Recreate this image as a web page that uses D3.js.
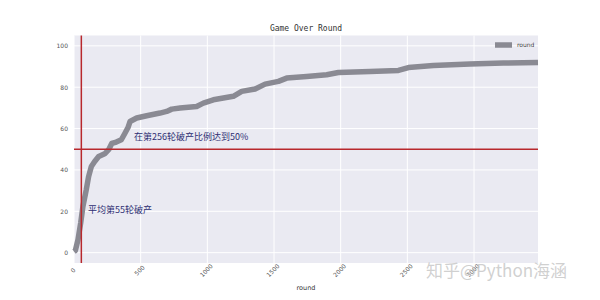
<!DOCTYPE html>
<html><head><meta charset="utf-8">
<script src="https://cdn.jsdelivr.net/npm/d3@7"></script>
<style>body{margin:0;background:#fff}svg{display:block}</style>
</head><body><svg id="c" width="600" height="300"></svg>
<script>
const rounds = [0, 10, 30, 50, 67, 92, 110, 130, 155, 185, 230, 260, 283, 317, 355, 380, 405, 420, 470, 545, 645, 695, 733, 795, 920, 970, 1045, 1195, 1258, 1358, 1433, 1533, 1595, 1745, 1895, 1983, 2220, 2433, 2508, 2695, 2970, 3220, 3480];
const ratio = [0.5, 1, 6.3, 14.3, 22.4, 30.4, 36.9, 41.7, 44.1, 46.5, 47.8, 49.8, 52.8, 53.5, 54.6, 57.5, 60.5, 63.4, 65.1, 66.2, 67.5, 68.3, 69.4, 69.9, 70.7, 72.3, 73.9, 75.6, 78, 79.1, 81.5, 82.8, 84.4, 85.2, 86, 87.1, 87.6, 88.1, 89.5, 90.5, 91.2, 91.7, 92];
const xTicks = [0, 500, 1000, 1500, 2000, 2500, 3000];
const yTicks = [0, 20, 40, 60, 80, 100];
const meanRound = 55;
const halfLevel = 50;
const title = "Game Over Round";
const xLabel = "round";
const seriesName = "round";
const note1 = "在第256轮破产比例达到50%";
const note2 = "平均第55轮破产";
const watermark = "知乎@Python海涵";

const svg = d3.select("#c");
const L = 74, R = 538, T = 35.5, B = 263;
const x = d3.scaleLinear().domain([0, 3480]).range([L, R]);
const y = d3.scaleLinear().domain([-5, 105]).range([B, T]);

svg.append("rect").attr("x", L).attr("y", T).attr("width", R - L).attr("height", B - T).attr("fill", "#EAEAF2");

const gx = svg.append("g");
gx.selectAll("line").data(xTicks).join("line")
  .attr("x1", d => x(d)).attr("x2", d => x(d)).attr("y1", T).attr("y2", B)
  .attr("stroke", "#fff").attr("stroke-width", 1);
const gy = svg.append("g");
gy.selectAll("line").data(yTicks).join("line")
  .attr("y1", d => y(d)).attr("y2", d => y(d)).attr("x1", L).attr("x2", R)
  .attr("stroke", "#fff").attr("stroke-width", 1);

// axes (tick labels only)
const xAxis = svg.append("g").attr("transform", `translate(0,${B})`)
  .call(d3.axisBottom(x).tickValues(xTicks).tickSize(0).tickFormat(d3.format("d")));
xAxis.select(".domain").remove();
xAxis.selectAll("text").attr("font-family", "DejaVu Sans").attr("font-size", 6).attr("fill", "#555")
  .attr("text-anchor", "middle").attr("dy", 0).attr("y", 0)
  .attr("transform", "translate(0,9) rotate(-45)");
const yAxis = svg.append("g").attr("transform", `translate(${L},0)`)
  .call(d3.axisLeft(y).tickValues(yTicks).tickSize(0).tickFormat(d3.format("d")));
yAxis.select(".domain").remove();
yAxis.selectAll("text").attr("font-family", "DejaVu Sans").attr("font-size", 6).attr("fill", "#555").attr("x", -6);

// data line
const line = d3.line().x((d, i) => x(rounds[i])).y(d => y(d));
svg.append("path").datum(ratio).attr("d", line)
  .attr("fill", "none").attr("stroke", "#8a8a93").attr("stroke-width", 5.5)
  .attr("stroke-linejoin", "round").attr("stroke-linecap", "butt");

// reference lines
svg.append("line").attr("x1", x(meanRound)).attr("x2", x(meanRound)).attr("y1", T).attr("y2", B)
  .attr("stroke", "#b8282d").attr("stroke-width", 1.5);
svg.append("line").attr("x1", L).attr("x2", R).attr("y1", y(halfLevel)).attr("y2", y(halfLevel))
  .attr("stroke", "#b8282d").attr("stroke-width", 1.5);

// annotations
svg.append("text").attr("x", x(450)).attr("y", y(54.6)).text(note1)
  .attr("font-family", "Noto Sans CJK SC").attr("font-size", 9).attr("fill", "#2e2e72");
svg.append("text").attr("x", x(105)).attr("y", y(19)).text(note2)
  .attr("font-family", "Noto Sans CJK SC").attr("font-size", 9).attr("fill", "#2e2e72");

// title & labels
svg.append("text").attr("x", (L + R) / 2).attr("y", 31).attr("text-anchor", "middle").text(title)
  .attr("font-family", "DejaVu Sans Mono").attr("font-size", 8).attr("fill", "#333");
svg.append("text").attr("x", (L + R) / 2).attr("y", 290).attr("text-anchor", "middle").text(xLabel)
  .attr("font-family", "DejaVu Sans").attr("font-size", 6.5).attr("fill", "#333");

// legend
svg.append("line").attr("x1", 495).attr("x2", 512).attr("y1", 45).attr("y2", 45)
  .attr("stroke", "#8a8a93").attr("stroke-width", 5.5);
svg.append("text").attr("x", 517).attr("y", 47).text(seriesName)
  .attr("font-family", "DejaVu Sans").attr("font-size", 6).attr("fill", "#444");

// watermark
svg.append("text").attr("x", 426).attr("y", 277).text(watermark)
  .attr("font-family", "Noto Sans CJK SC").attr("font-size", 17).attr("fill", "#c8c8c8").attr("fill-opacity", 0.85);
</script></body></html>
